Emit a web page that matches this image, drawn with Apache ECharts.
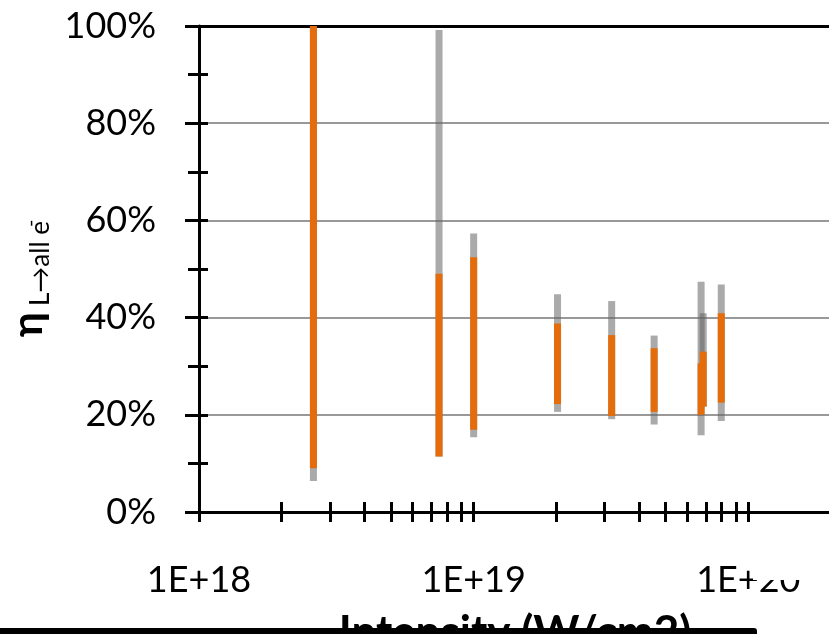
<!DOCTYPE html>
<html>
<head>
<meta charset="utf-8">
<script src="https://cdn.jsdelivr.net/npm/echarts@6/dist/echarts.min.js"></script>
<style>
  html, body { margin: 0; padding: 0; background: #ffffff; }
  #chart { width: 829px; height: 634px; }
</style>
</head>
<body>
<div id="chart"></div>
<script>
// Laser intensity (W/cm2) of each shot group
const intensity = [2.61e18, 7.48e18, 1.0e19, 2.02e19, 3.18e19, 4.54e19, 6.73e19, 6.85e19, 7.97e19];
// Full range of the conversion efficiency (%)
const fullMax = [100, 99.2, 57.3, 44.8, 43.4, 36.3, 47.4, 40.9, 46.8];
const fullMin = [6.4, 11.4, 15.4, 20.6, 19.1, 18.0, 15.8, 21.7, 18.7];
// Core range of the conversion efficiency (%)
const coreMax = [100, 49.0, 52.4, 38.8, 36.4, 33.7, 30.6, 33.0, 40.9];
const coreMin = [9.0, 11.4, 16.9, 22.2, 19.75, 20.6, 20.0, 21.7, 22.5];

// Axis ticks and labels
const xDecades = [1e18, 1e19, 1e20, 1e21];
const xDecadeLabels = ['1E+18', '1E+19', '1E+20', '1E+21'];
const xMinorSteps = [1, 2, 3, 4, 5, 6, 7, 8, 9];
const yTicks = [0, 20, 40, 60, 80, 100];
const yTickLabels = ['0%', '20%', '40%', '60%', '80%', '100%'];

const xTickValues = [];
xDecades.slice(0, 3).forEach(d => xMinorSteps.forEach(m => xTickValues.push(m * d)));
xTickValues.push(xDecades[3]);

const fullData = intensity.map((x, i) => [x, fullMin[i], fullMax[i]]);
const coreData = intensity.map((x, i) => [x, coreMin[i], coreMax[i]]);

const FONT = 'Lato';
const BAR_W = 7;

function rangeBar(fill) {
  return function (params, api) {
    const x = api.value(0);
    const top = api.coord([x, api.value(2)]);
    const bot = api.coord([x, api.value(1)]);
    return {
      type: 'rect',
      shape: { x: top[0] - BAR_W / 2, y: top[1], width: BAR_W, height: bot[1] - top[1] },
      style: { fill: fill }
    };
  };
}

function xLabel(v) {
  const i = xDecades.findIndex(d => Math.abs(Math.log10(d) - Math.log10(v)) < 1e-6);
  return i >= 0 ? xDecadeLabels[i] : '';
}
function yLabel(v) {
  const i = yTicks.indexOf(Math.round(v));
  return i >= 0 ? yTickLabels[i] : '';
}

const xBase = {
  type: 'log',
  logBase: 10,
  min: 1e18,
  max: 1e21,
  position: 'bottom',
  splitLine: { show: false },
  minorTick: { show: false }
};
const yBase = {
  type: 'value',
  min: 0,
  max: 100,
  interval: 20,
  position: 'left'
};

const chart = echarts.init(document.getElementById('chart'), null, { renderer: 'canvas' });
chart.setOption({
  animation: false,
  backgroundColor: '#ffffff',
  grid: {
    left: 199, top: 26, right: -194, bottom: 122,
    outerBoundsMode: 'none', containLabel: false, show: false
  },
  xAxis: [
    Object.assign({}, xBase, {
      axisLine: { show: true, lineStyle: { color: '#000000', width: 3 } },
      axisTick: { show: true, inside: false, length: 10, customValues: xTickValues,
        lineStyle: { color: '#000000', width: 3 } },
      axisLabel: { show: true, customValues: xDecades, formatter: xLabel, margin: 50,
        fontFamily: FONT, fontSize: 36, color: '#000000' }
    }),
    Object.assign({}, xBase, {
      axisLine: { show: false },
      axisTick: { show: true, inside: true, length: 10, customValues: xTickValues,
        lineStyle: { color: '#000000', width: 3 } },
      axisLabel: { show: false }
    }),
    // plot-area top edge
    Object.assign({}, xBase, {
      position: 'top',
      axisLine: { show: true, lineStyle: { color: '#000000', width: 3 } },
      axisTick: { show: false },
      axisLabel: { show: false }
    })
  ],
  yAxis: [
    Object.assign({}, yBase, {
      axisLine: { show: true, lineStyle: { color: '#000000', width: 3 } },
      axisTick: { show: true, inside: false, length: 14, lineStyle: { color: '#000000', width: 3 } },
      minorTick: { show: true, splitNumber: 2, length: 11, lineStyle: { color: '#000000', width: 3 } },
      splitLine: { show: true, lineStyle: { color: '#999999', width: 2 } },
      axisLabel: { show: true, formatter: yLabel, margin: 43,
        fontFamily: FONT, fontSize: 36, color: '#000000' }
    }),
    Object.assign({}, yBase, {
      axisLine: { show: false },
      axisTick: { show: true, inside: true, length: 9, lineStyle: { color: '#000000', width: 3 } },
      minorTick: { show: true, splitNumber: 2, length: 9, lineStyle: { color: '#000000', width: 3 } },
      splitLine: { show: false },
      axisLabel: { show: false }
    })
  ],
  series: [
    {
      type: 'custom', name: 'full range', xAxisIndex: 0, yAxisIndex: 0,
      renderItem: rangeBar('rgba(100,100,100,0.55)'),
      encode: { x: 0, y: [1, 2] },
      data: fullData, z: 3
    },
    {
      type: 'custom', name: 'core range', xAxisIndex: 0, yAxisIndex: 0,
      renderItem: rangeBar('#E46C0A'),
      encode: { x: 0, y: [1, 2] },
      data: coreData, z: 4
    }
  ],
  graphic: [
    {
      type: 'group', x: 43, y: 337, rotation: Math.PI / 2, z: 10,
      children: [
        { type: 'text', x: 0, y: -14.7,
          style: { text: 'η', font: 'bold 42px ' + FONT, fill: '#000000', align: 'left', verticalAlign: 'middle' } },
        { type: 'text', x: 31, y: -2.5,
          style: { text: 'L→all e', font: '26px ' + FONT, fill: '#000000', align: 'left', verticalAlign: 'middle' } },
        { type: 'text', x: 110, y: -12,
          style: { text: '-', font: '20px ' + FONT, fill: '#000000', align: 'left', verticalAlign: 'middle' } }
      ]
    },
    {
      type: 'text', x: 515, y: 633, z: 10,
      style: { text: 'Intensity (W/cm2)', font: 'bold 44px ' + FONT, fill: '#000000', align: 'center', verticalAlign: 'middle' }
    },
    {
      type: 'rect', z: 20,
      shape: { x: 753, y: 540, width: 76, height: 40 },
      style: { fill: '#ffffff' }
    },
    {
      type: 'rect', z: 20,
      shape: { x: 0, y: 628, width: 757, height: 6, r: [0, 3, 0, 0] },
      style: { fill: '#000000' }
    }
  ]
});
</script>
</body>
</html>
